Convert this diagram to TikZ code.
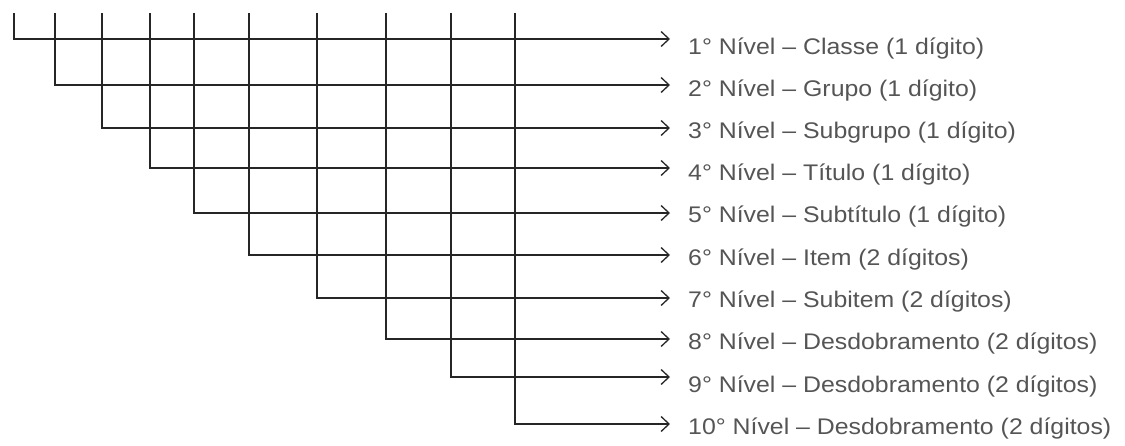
\documentclass[tikz,border=0pt]{standalone}
\usepackage{fontspec}
\setmainfont{Liberation Sans}
\newfontfamily\lvlfont[FakeStretch=1.1]{Liberation Sans}
\usetikzlibrary{arrows.meta}
\definecolor{txtgray}{RGB}{85,85,85}
\tikzset{
  conn/.style={line width=1.4pt, draw=black!85, -{Straight Barb[length=8pt,width=15pt,line width=1.3pt]}},
  lvl/.style={anchor=base west, inner sep=0pt, text=txtgray, font=\lvlfont\fontsize{22.6}{22.6}\selectfont}
}
\begin{document}
\begin{tikzpicture}[x=1pt,y=-1pt]
\useasboundingbox (0,0) rectangle (1125,446);
% tops of vertical lines
\foreach \i/\x in {1/14,2/55,3/102,4/150,5/194,6/249,7/317,8/386,9/451,10/515}{
  \coordinate (t\i) at (\x,13);
}
% arrow ends
\foreach \i/\y in {1/39,2/85,3/128,4/168,5/213,6/255,7/298,8/339,9/377,10/424}{
  \coordinate (e\i) at (670,\y);
}
\node[lvl] (l1) at (688,55) {1° Nível – Classe (1 dígito)};
\node[lvl] (l2) at (688,97) {2° Nível – Grupo (1 dígito)};
\node[lvl] (l3) at (688,139) {3° Nível – Subgrupo (1 dígito)};
\node[lvl] (l4) at (688,181) {4° Nível – Título (1 dígito)};
\node[lvl] (l5) at (688,223) {5° Nível – Subtítulo (1 dígito)};
\node[lvl] (l6) at (688,266) {6° Nível – Item (2 dígitos)};
\node[lvl] (l7) at (688,308) {7° Nível – Subitem (2 dígitos)};
\node[lvl] (l8) at (688,350) {8° Nível – Desdobramento (2 dígitos)};
\node[lvl] (l9) at (688,392) {9° Nível – Desdobramento (2 dígitos)};
\node[lvl] (l10) at (688,434) {10° Nível – Desdobramento (2 dígitos)};
\foreach \i in {1,...,10}{
  \draw[conn] (t\i) |- (e\i);
}
\end{tikzpicture}
\end{document}
